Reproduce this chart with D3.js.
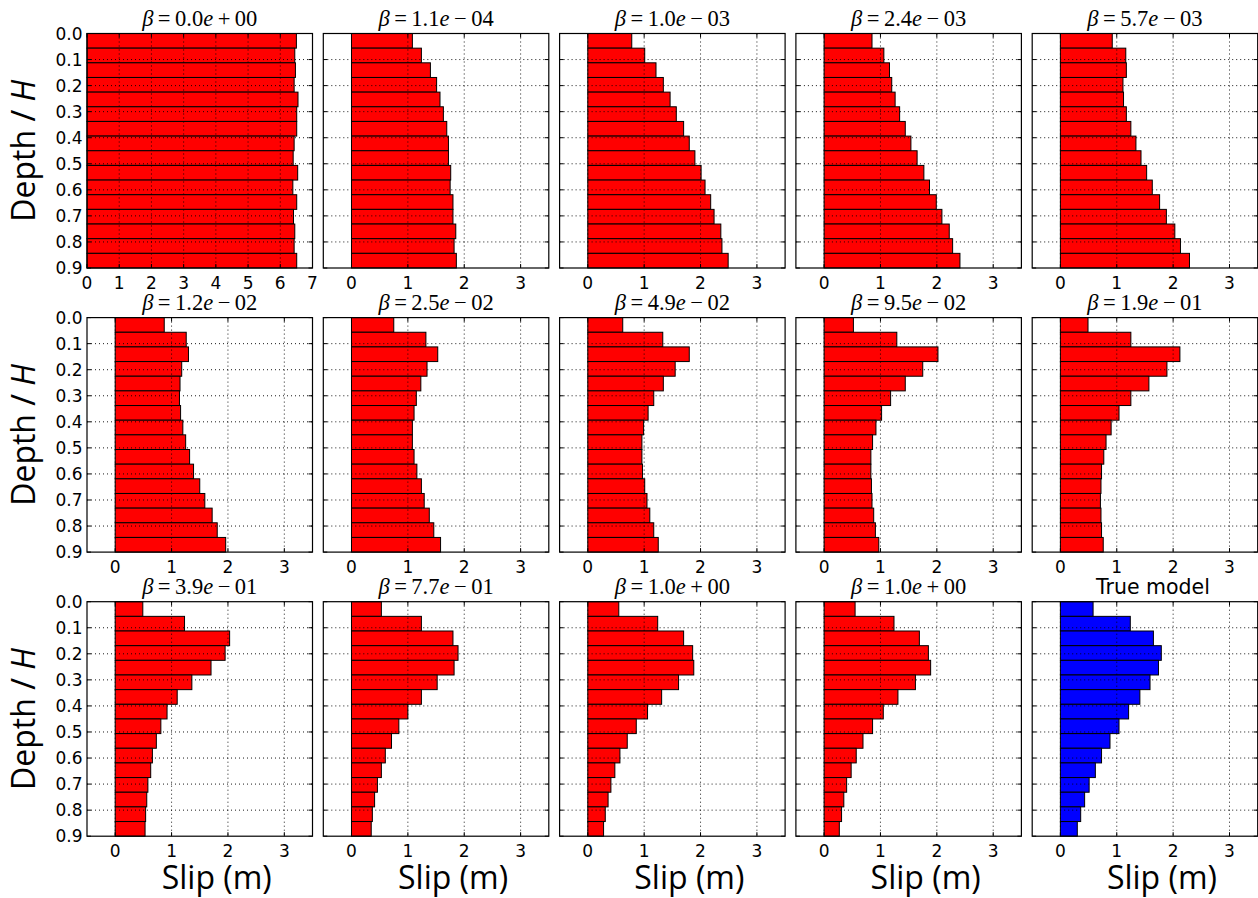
<!DOCTYPE html>
<html><head><meta charset="utf-8">
<script src="https://cdn.jsdelivr.net/npm/d3@7"></script>
<style>body{margin:0;background:#fff} svg{display:block}</style>
</head><body><svg id="c" width="1258" height="898"></svg>
<script>
// ---- data ----
const betaLabels = ["0.0e+00","1.1e-04","1.0e-03","2.4e-03","5.7e-03",
                    "1.2e-02","2.5e-02","4.9e-02","9.5e-02","1.9e-01",
                    "3.9e-01","7.7e-01","1.0e+00","1.0e+00","True model"];
const slip00 = [6.50,6.45,6.47,6.43,6.55,6.51,6.51,6.43,6.40,6.54,6.39,6.51,6.41,6.45,6.43,6.51];
const slip01 = [1.08,1.24,1.40,1.51,1.57,1.63,1.69,1.72,1.72,1.76,1.75,1.80,1.80,1.85,1.82,1.86];
const slip02 = [0.78,1.01,1.21,1.34,1.46,1.57,1.70,1.80,1.90,2.01,2.08,2.18,2.24,2.36,2.38,2.49];
const slip03 = [0.85,1.06,1.16,1.20,1.26,1.34,1.44,1.54,1.65,1.77,1.87,1.99,2.09,2.22,2.28,2.41];
const slip04 = [0.92,1.16,1.17,1.11,1.12,1.17,1.25,1.34,1.43,1.53,1.63,1.76,1.88,2.03,2.13,2.29];
const slip05 = [0.87,1.26,1.30,1.18,1.15,1.14,1.16,1.20,1.25,1.32,1.39,1.50,1.59,1.72,1.81,1.96];
const slip06 = [0.75,1.32,1.53,1.34,1.23,1.15,1.11,1.08,1.08,1.11,1.16,1.24,1.29,1.38,1.46,1.58];
const slip07 = [0.62,1.33,1.80,1.55,1.34,1.17,1.07,0.99,0.96,0.96,0.97,1.01,1.05,1.10,1.17,1.25];
const slip08 = [0.52,1.29,2.02,1.75,1.44,1.18,1.02,0.92,0.86,0.83,0.83,0.84,0.85,0.88,0.91,0.97];
const slip09 = [0.49,1.25,2.12,1.89,1.57,1.25,1.04,0.90,0.81,0.77,0.73,0.72,0.71,0.72,0.73,0.76];
const slip10 = [0.49,1.23,2.03,1.95,1.70,1.36,1.10,0.92,0.81,0.73,0.66,0.63,0.58,0.56,0.54,0.53];
const slip11 = [0.53,1.24,1.80,1.89,1.82,1.52,1.24,1.00,0.84,0.71,0.60,0.53,0.46,0.41,0.37,0.35];
const slip12 = [0.55,1.24,1.70,1.86,1.88,1.61,1.31,1.06,0.86,0.70,0.57,0.48,0.41,0.36,0.31,0.28];
const slip13 = [0.55,1.24,1.69,1.85,1.89,1.62,1.31,1.05,0.86,0.69,0.57,0.48,0.40,0.35,0.31,0.27];
const slipTrue = [0.58,1.24,1.65,1.79,1.74,1.59,1.41,1.21,1.04,0.88,0.73,0.62,0.51,0.43,0.36,0.30];
const panelData = [slip00,slip01,slip02,slip03,slip04,slip05,slip06,slip07,slip08,slip09,slip10,slip11,slip12,slip13,slipTrue];
const depthTicks = [0.0,0.1,0.2,0.3,0.4,0.5,0.6,0.7,0.8,0.9];
const xTicksWide = [0,1,2,3,4,5,6,7];
const xTicksNarrow = [0,1,2,3];
const depthMax = 0.9;

// ---- layout ----
const svg = d3.select("#c");
const colX0 = 87, colStep = 236.3, pw = 225.5;
const rowY0 = 33.5, rowStep = 284.1, ph = 234.5;
const tickFont = "'DejaVu Sans', sans-serif";
const labFont = "'Open Sans', 'Noto Sans', sans-serif";

panelData.forEach((vals, i) => {
  const r = Math.floor(i / 5), c = i % 5;
  const x0 = colX0 + c * colStep, y0 = rowY0 + r * rowStep;
  const g = svg.append("g").attr("transform", `translate(${x0},${y0})`);
  const wide = i === 0;
  const x = d3.scaleLinear().domain(wide ? [0, 7] : [-0.5, 3.5]).range([0, pw]);
  const y = d3.scaleLinear().domain([0, depthMax]).range([0, ph]);
  const band = d3.scaleBand().domain(d3.range(vals.length)).range([0, ph]).padding(0);
  const xt = wide ? xTicksWide : xTicksNarrow;
  const color = i === 14 ? "#0000ff" : "#ff0000";

  // bars
  g.selectAll("rect.bar").data(vals).join("rect")
    .attr("class", "bar")
    .attr("x", x(0)).attr("y", (d, k) => band(k))
    .attr("width", d => x(d) - x(0)).attr("height", band.bandwidth())
    .attr("fill", color).attr("stroke", "#000").attr("stroke-width", 1);

  // grid (drawn above bars)
  g.selectAll("line.gx").data(xt.filter(v => x(v) > 0.5 && x(v) < pw - 0.5)).join("line")
    .attr("x1", d => x(d)).attr("x2", d => x(d)).attr("y1", 0).attr("y2", ph)
    .attr("stroke", "#000").attr("stroke-width", 0.9).attr("stroke-dasharray", "1,3");
  g.selectAll("line.gy").data(depthTicks.filter(v => y(v) > 0.5 && y(v) < ph - 0.5)).join("line")
    .attr("x1", 0).attr("x2", pw).attr("y1", d => y(d)).attr("y2", d => y(d))
    .attr("stroke", "#000").attr("stroke-width", 0.9).attr("stroke-dasharray", "1,3");

  // inward ticks on all sides
  const tl = 4;
  xt.forEach(v => {
    g.append("line").attr("x1", x(v)).attr("x2", x(v)).attr("y1", ph).attr("y2", ph - tl).attr("stroke", "#000");
    g.append("line").attr("x1", x(v)).attr("x2", x(v)).attr("y1", 0).attr("y2", tl).attr("stroke", "#000");
  });
  depthTicks.forEach(v => {
    g.append("line").attr("x1", 0).attr("x2", tl).attr("y1", y(v)).attr("y2", y(v)).attr("stroke", "#000");
    g.append("line").attr("x1", pw).attr("x2", pw - tl).attr("y1", y(v)).attr("y2", y(v)).attr("stroke", "#000");
  });

  // frame
  g.append("rect").attr("x", 0).attr("y", 0).attr("width", pw).attr("height", ph)
    .attr("fill", "none").attr("stroke", "#000").attr("stroke-width", 1.2);

  // x tick labels
  g.selectAll("text.xt").data(xt).join("text")
    .attr("x", d => x(d)).attr("y", ph + 20.5)
    .attr("text-anchor", "middle").attr("font-family", tickFont).attr("font-size", 17)
    .text(d => d);

  // y tick labels (first column)
  if (c === 0) {
    g.selectAll("text.yt").data(depthTicks).join("text")
      .attr("x", -4.5).attr("y", d => y(d)).attr("dy", "0.36em")
      .attr("text-anchor", "end").attr("font-family", tickFont).attr("font-size", 17)
      .text(d => d.toFixed(1));
    const yl = g.append("text")
      .attr("transform", `translate(${35 - x0},${ph / 2}) rotate(-90)`)
      .attr("text-anchor", "middle").attr("font-family", labFont).attr("font-size", 32);
    yl.append("tspan").text("Depth / ");
    yl.append("tspan").attr("font-style", "italic").text("H");
  }

  // x axis label (last row)
  if (r === 2) {
    g.append("text").attr("x", pw / 2 + 17).attr("y", 889 - y0)
      .attr("text-anchor", "middle").attr("font-family", labFont).attr("font-size", 32)
      .text("Slip (m)");
  }

  // title
  const lab = betaLabels[i];
  const t = g.append("text").attr("x", pw / 2).attr("y", -8).attr("text-anchor", "middle");
  if (lab !== "True model") {
    const m = lab.match(/^([\d.]+)e([+-])(\d+)$/);
    t.attr("font-family", "'Liberation Serif', 'DejaVu Serif', serif").attr("font-size", 22.5);
    t.append("tspan").attr("font-style", "italic").text("β");
    t.append("tspan").text("\u2009=\u2009" + m[1]);
    t.append("tspan").attr("font-style", "italic").text("e");
    t.append("tspan").text("\u2009" + (m[2] === "+" ? "+" : "\u2212") + "\u2009" + m[3]);
  } else {
    t.attr("x", pw / 2 + 8).attr("font-family", tickFont).attr("font-size", 20.5).text(lab);
  }
});
</script></body></html>
